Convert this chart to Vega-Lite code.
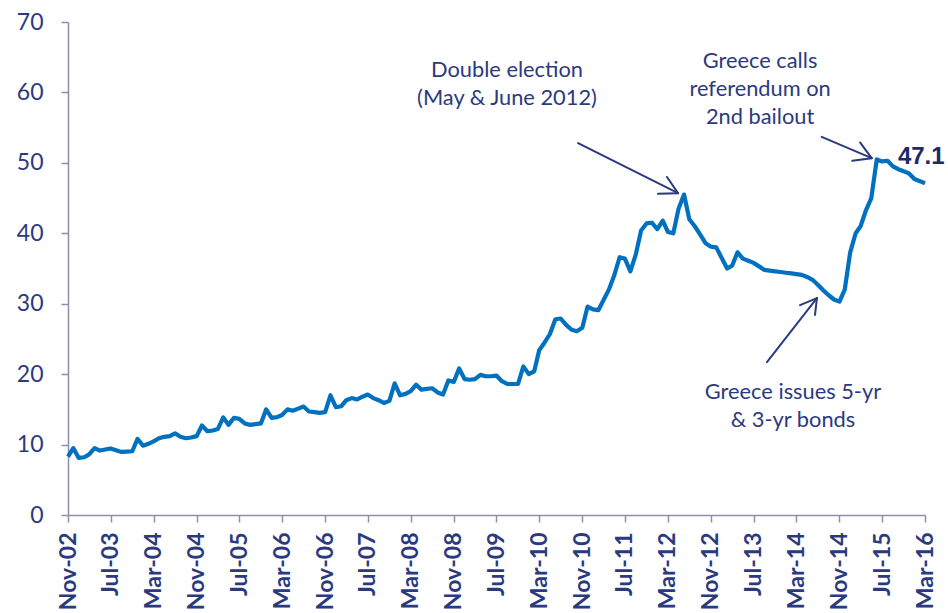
{
  "$schema": "https://vega.github.io/schema/vega-lite/v6.json",
  "width": 857,
  "height": 493,
  "autosize": "none",
  "padding": {"left": 68, "top": 22, "right": 23, "bottom": 98},
  "background": "white",
  "config": {"view": {"stroke": null}},
  "datasets": {
    "series": [
      {"date": "2002-11-01", "v": 8.3}, {"date": "2002-12-01", "v": 9.5}, {"date": "2003-01-01", "v": 8.1}, {"date": "2003-02-01", "v": 8.2},
      {"date": "2003-03-01", "v": 8.6}, {"date": "2003-04-01", "v": 9.5}, {"date": "2003-05-01", "v": 9.15}, {"date": "2003-06-01", "v": 9.3},
      {"date": "2003-07-01", "v": 9.45}, {"date": "2003-08-01", "v": 9.2}, {"date": "2003-09-01", "v": 8.95}, {"date": "2003-10-01", "v": 9.0},
      {"date": "2003-11-01", "v": 9.05}, {"date": "2003-12-01", "v": 10.8}, {"date": "2004-01-01", "v": 9.85}, {"date": "2004-02-01", "v": 10.1},
      {"date": "2004-03-01", "v": 10.45}, {"date": "2004-04-01", "v": 10.9}, {"date": "2004-05-01", "v": 11.1}, {"date": "2004-06-01", "v": 11.2},
      {"date": "2004-07-01", "v": 11.6}, {"date": "2004-08-01", "v": 11.1}, {"date": "2004-09-01", "v": 10.9}, {"date": "2004-10-01", "v": 11.0},
      {"date": "2004-11-01", "v": 11.2}, {"date": "2004-12-01", "v": 12.7}, {"date": "2005-01-01", "v": 11.9}, {"date": "2005-02-01", "v": 12.0},
      {"date": "2005-03-01", "v": 12.2}, {"date": "2005-04-01", "v": 13.85}, {"date": "2005-05-01", "v": 12.8}, {"date": "2005-06-01", "v": 13.8},
      {"date": "2005-07-01", "v": 13.65}, {"date": "2005-08-01", "v": 13.0}, {"date": "2005-09-01", "v": 12.8}, {"date": "2005-10-01", "v": 12.9},
      {"date": "2005-11-01", "v": 13.0}, {"date": "2005-12-01", "v": 15.0}, {"date": "2006-01-01", "v": 13.8}, {"date": "2006-02-01", "v": 13.9},
      {"date": "2006-03-01", "v": 14.2}, {"date": "2006-04-01", "v": 15.0}, {"date": "2006-05-01", "v": 14.8}, {"date": "2006-06-01", "v": 15.1},
      {"date": "2006-07-01", "v": 15.4}, {"date": "2006-08-01", "v": 14.7}, {"date": "2006-09-01", "v": 14.6}, {"date": "2006-10-01", "v": 14.5},
      {"date": "2006-11-01", "v": 14.6}, {"date": "2006-12-01", "v": 17.0}, {"date": "2007-01-01", "v": 15.3}, {"date": "2007-02-01", "v": 15.45},
      {"date": "2007-03-01", "v": 16.3}, {"date": "2007-04-01", "v": 16.6}, {"date": "2007-05-01", "v": 16.4}, {"date": "2007-06-01", "v": 16.8},
      {"date": "2007-07-01", "v": 17.1}, {"date": "2007-08-01", "v": 16.6}, {"date": "2007-09-01", "v": 16.3}, {"date": "2007-10-01", "v": 15.9},
      {"date": "2007-11-01", "v": 16.2}, {"date": "2007-12-01", "v": 18.7}, {"date": "2008-01-01", "v": 17.0}, {"date": "2008-02-01", "v": 17.2},
      {"date": "2008-03-01", "v": 17.6}, {"date": "2008-04-01", "v": 18.5}, {"date": "2008-05-01", "v": 17.8}, {"date": "2008-06-01", "v": 17.9},
      {"date": "2008-07-01", "v": 18.0}, {"date": "2008-08-01", "v": 17.4}, {"date": "2008-09-01", "v": 17.1}, {"date": "2008-10-01", "v": 19.1},
      {"date": "2008-11-01", "v": 18.9}, {"date": "2008-12-01", "v": 20.8}, {"date": "2009-01-01", "v": 19.3}, {"date": "2009-02-01", "v": 19.2},
      {"date": "2009-03-01", "v": 19.3}, {"date": "2009-04-01", "v": 19.9}, {"date": "2009-05-01", "v": 19.7}, {"date": "2009-06-01", "v": 19.7},
      {"date": "2009-07-01", "v": 19.8}, {"date": "2009-08-01", "v": 19.0}, {"date": "2009-09-01", "v": 18.6}, {"date": "2009-10-01", "v": 18.6},
      {"date": "2009-11-01", "v": 18.6}, {"date": "2009-12-01", "v": 21.1}, {"date": "2010-01-01", "v": 20.0}, {"date": "2010-02-01", "v": 20.4},
      {"date": "2010-03-01", "v": 23.4}, {"date": "2010-04-01", "v": 24.5}, {"date": "2010-05-01", "v": 25.7}, {"date": "2010-06-01", "v": 27.8},
      {"date": "2010-07-01", "v": 27.9}, {"date": "2010-08-01", "v": 27.0}, {"date": "2010-09-01", "v": 26.3}, {"date": "2010-10-01", "v": 26.1},
      {"date": "2010-11-01", "v": 26.6}, {"date": "2010-12-01", "v": 29.6}, {"date": "2011-01-01", "v": 29.2}, {"date": "2011-02-01", "v": 29.1},
      {"date": "2011-03-01", "v": 30.5}, {"date": "2011-04-01", "v": 32.0}, {"date": "2011-05-01", "v": 34.0}, {"date": "2011-06-01", "v": 36.6},
      {"date": "2011-07-01", "v": 36.4}, {"date": "2011-08-01", "v": 34.6}, {"date": "2011-09-01", "v": 37.0}, {"date": "2011-10-01", "v": 40.4},
      {"date": "2011-11-01", "v": 41.4}, {"date": "2011-12-01", "v": 41.5}, {"date": "2012-01-01", "v": 40.6}, {"date": "2012-02-01", "v": 41.8},
      {"date": "2012-03-01", "v": 40.2}, {"date": "2012-04-01", "v": 40.0}, {"date": "2012-05-01", "v": 43.5}, {"date": "2012-06-01", "v": 45.5},
      {"date": "2012-07-01", "v": 42.0}, {"date": "2012-08-01", "v": 41.0}, {"date": "2012-09-01", "v": 39.8}, {"date": "2012-10-01", "v": 38.6},
      {"date": "2012-11-01", "v": 38.1}, {"date": "2012-12-01", "v": 38.0}, {"date": "2013-01-01", "v": 36.5}, {"date": "2013-02-01", "v": 35.0},
      {"date": "2013-03-01", "v": 35.4}, {"date": "2013-04-01", "v": 37.3}, {"date": "2013-05-01", "v": 36.4}, {"date": "2013-06-01", "v": 36.1},
      {"date": "2013-07-01", "v": 35.8}, {"date": "2013-08-01", "v": 35.3}, {"date": "2013-09-01", "v": 34.8}, {"date": "2013-10-01", "v": 34.7},
      {"date": "2013-11-01", "v": 34.6}, {"date": "2013-12-01", "v": 34.5}, {"date": "2014-01-01", "v": 34.4}, {"date": "2014-02-01", "v": 34.3},
      {"date": "2014-03-01", "v": 34.2}, {"date": "2014-04-01", "v": 34.1}, {"date": "2014-05-01", "v": 33.8}, {"date": "2014-06-01", "v": 33.4},
      {"date": "2014-07-01", "v": 32.7}, {"date": "2014-08-01", "v": 31.9}, {"date": "2014-09-01", "v": 31.2}, {"date": "2014-10-01", "v": 30.6},
      {"date": "2014-11-01", "v": 30.3}, {"date": "2014-12-01", "v": 32.0}, {"date": "2015-01-01", "v": 37.3}, {"date": "2015-02-01", "v": 40.0},
      {"date": "2015-03-01", "v": 41.0}, {"date": "2015-04-01", "v": 43.3}, {"date": "2015-05-01", "v": 45.0}, {"date": "2015-06-01", "v": 50.5},
      {"date": "2015-07-01", "v": 50.2}, {"date": "2015-08-01", "v": 50.3}, {"date": "2015-09-01", "v": 49.5}, {"date": "2015-10-01", "v": 49.1},
      {"date": "2015-11-01", "v": 48.8}, {"date": "2015-12-01", "v": 48.5}, {"date": "2016-01-01", "v": 47.7}, {"date": "2016-02-01", "v": 47.4},
      {"date": "2016-03-01", "v": 47.1}
    ],
    "arrows": [
      {"d1": "2010-10-08", "v1": 52.8, "d2": "2012-04-28", "v2": 45.7},
      {"d1": "2012-02-25", "v1": 48.0, "d2": "2012-04-28", "v2": 45.7},
      {"d1": "2012-01-05", "v1": 45.6, "d2": "2012-04-28", "v2": 45.7},
      {"d1": "2014-07-23", "v1": 53.7, "d2": "2015-05-03", "v2": 50.67},
      {"d1": "2015-02-26", "v1": 52.9, "d2": "2015-05-03", "v2": 50.67},
      {"d1": "2015-01-13", "v1": 50.3, "d2": "2015-05-03", "v2": 50.67},
      {"d1": "2013-09-15", "v1": 21.7, "d2": "2014-06-26", "v2": 30.8},
      {"d1": "2014-03-22", "v1": 29.8, "d2": "2014-06-26", "v2": 30.8},
      {"d1": "2014-06-15", "v1": 28.4, "d2": "2014-06-26", "v2": 30.8}
    ],
    "notes": [
      {"d": "2009-08-30", "v": 63.2, "label": "Double election\n(May & June 2012)"},
      {"d": "2013-08-07", "v": 64.5, "label": "Greece calls\nreferendum on\n2nd bailout"},
      {"d": "2014-02-10", "v": 17.4, "label": "Greece issues 5-yr\n& 3-yr bonds"}
    ],
    "last": [
      {"d": "2015-09-29", "v": 50.9, "label": "47.1"}
    ]
  },
  "layer": [
    {
      "data": {"name": "series"},
      "mark": {"type": "line", "color": "#0070C0", "strokeWidth": 4.2, "strokeJoin": "round"},
      "encoding": {
        "x": {
          "field": "date", "type": "temporal",
          "scale": {"type": "utc", "domain": [{"year": 2002, "month": 11, "date": 1, "utc": true}, {"year": 2016, "month": 3, "date": 1, "utc": true}], "nice": false},
          "axis": {
            "title": null, "grid": false,
            "values": [
              {"year": 2002, "month": 11, "date": 1, "utc": true}, {"year": 2003, "month": 7, "date": 1, "utc": true},
              {"year": 2004, "month": 3, "date": 1, "utc": true}, {"year": 2004, "month": 11, "date": 1, "utc": true},
              {"year": 2005, "month": 7, "date": 1, "utc": true}, {"year": 2006, "month": 3, "date": 1, "utc": true},
              {"year": 2006, "month": 11, "date": 1, "utc": true}, {"year": 2007, "month": 7, "date": 1, "utc": true},
              {"year": 2008, "month": 3, "date": 1, "utc": true}, {"year": 2008, "month": 11, "date": 1, "utc": true},
              {"year": 2009, "month": 7, "date": 1, "utc": true}, {"year": 2010, "month": 3, "date": 1, "utc": true},
              {"year": 2010, "month": 11, "date": 1, "utc": true}, {"year": 2011, "month": 7, "date": 1, "utc": true},
              {"year": 2012, "month": 3, "date": 1, "utc": true}, {"year": 2012, "month": 11, "date": 1, "utc": true},
              {"year": 2013, "month": 7, "date": 1, "utc": true}, {"year": 2014, "month": 3, "date": 1, "utc": true},
              {"year": 2014, "month": 11, "date": 1, "utc": true}, {"year": 2015, "month": 7, "date": 1, "utc": true},
              {"year": 2016, "month": 3, "date": 1, "utc": true}
            ],
            "labelExpr": "utcFormat(datum.value, '%b-%y')",
            "labelAngle": 270, "labelAlign": "right", "labelBaseline": "middle",
            "labelFont": "Lato", "labelFontWeight": "bold", "labelFontSize": 23, "labelColor": "#2B3A7E",
            "labelPadding": 10, "labelOverlap": false, "labelFlush": false,
            "domainColor": "#8C8FAD", "domainWidth": 1.5, "tickColor": "#8C8FAD", "tickWidth": 1.5, "tickSize": 7
          }
        },
        "y": {
          "field": "v", "type": "quantitative",
          "scale": {"domain": [0, 70], "nice": false},
          "axis": {
            "title": null, "grid": false, "values": [0, 10, 20, 30, 40, 50, 60, 70],
            "labelFont": "Lato", "labelFontSize": 23, "labelColor": "#2B3A7E", "labelPadding": 18,
            "domainColor": "#8C8FAD", "domainWidth": 1.5, "tickColor": "#8C8FAD", "tickWidth": 1.5, "tickSize": 7
          }
        }
      }
    },
    {
      "data": {"name": "arrows"},
      "mark": {"type": "rule", "color": "#2B3A7E", "strokeWidth": 2, "strokeCap": "round"},
      "encoding": {
        "x": {"field": "d1", "type": "temporal"},
        "y": {"field": "v1", "type": "quantitative"},
        "x2": {"field": "d2"},
        "y2": {"field": "v2"}
      }
    },
    {
      "data": {"name": "notes"},
      "mark": {"type": "text", "font": "Lato", "fontSize": 21.8, "color": "#2B3A7E", "align": "center", "baseline": "middle", "lineBreak": "\n", "lineHeight": 28},
      "encoding": {
        "x": {"field": "d", "type": "temporal"},
        "y": {"field": "v", "type": "quantitative"},
        "text": {"field": "label"}
      }
    },
    {
      "data": {"name": "last"},
      "mark": {"type": "text", "font": "Liberation Sans", "fontWeight": "bold", "fontSize": 24, "color": "#1B2A6B", "align": "left", "baseline": "middle"},
      "encoding": {
        "x": {"field": "d", "type": "temporal"},
        "y": {"field": "v", "type": "quantitative"},
        "text": {"field": "label"}
      }
    }
  ]
}
